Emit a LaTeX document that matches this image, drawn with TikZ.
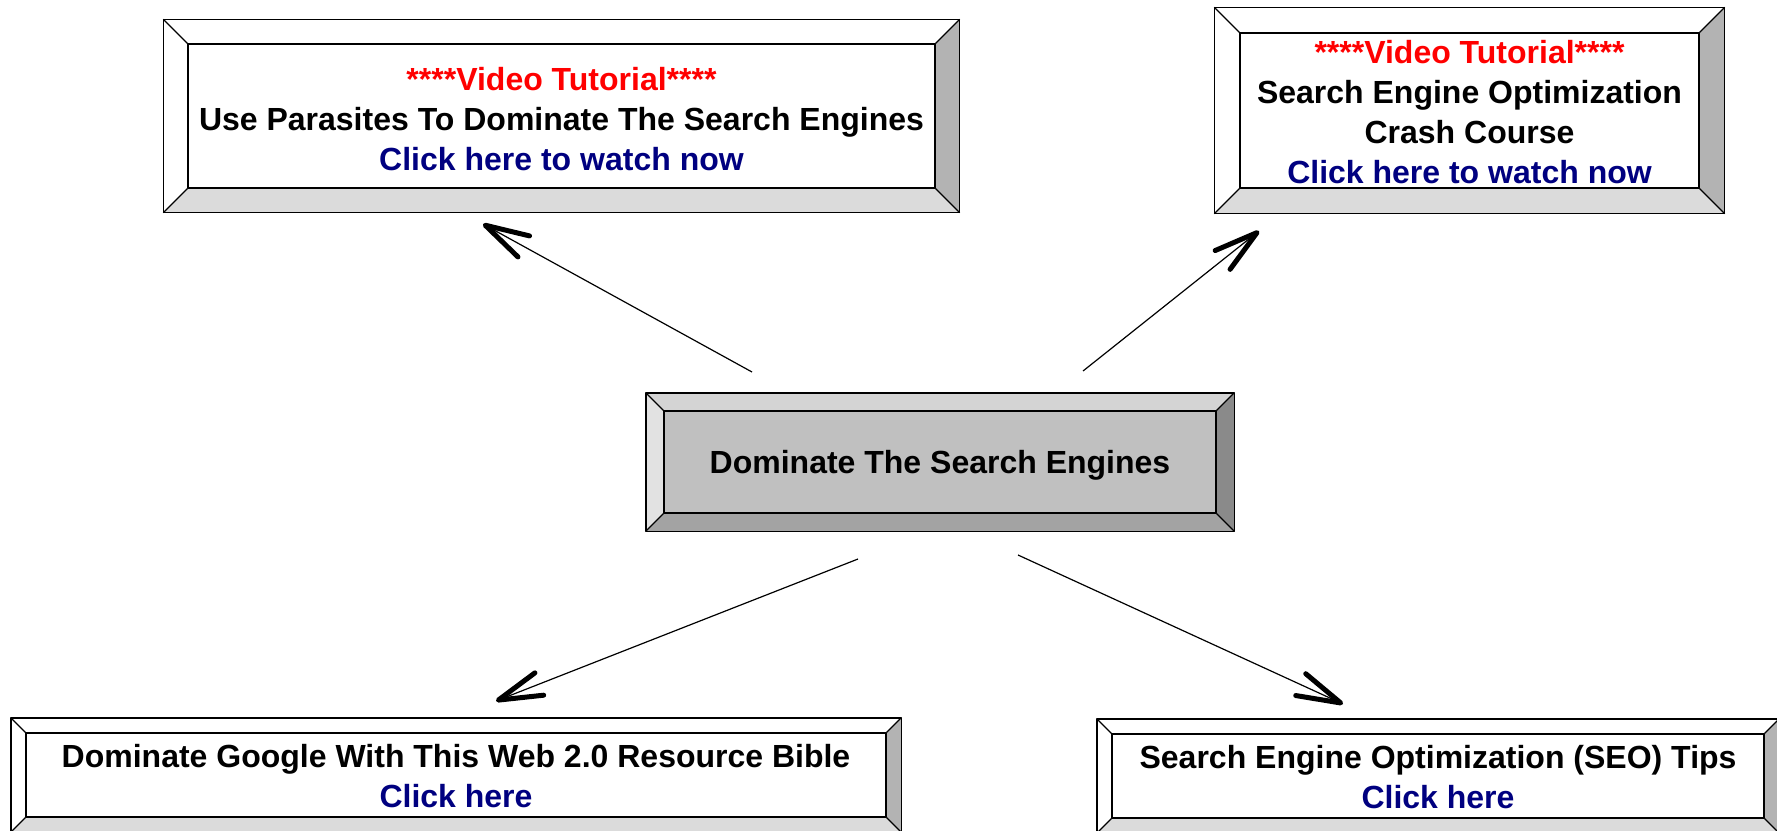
\documentclass[tikz,border=0pt]{standalone}
\usepackage{fontspec}
\setmainfont{Liberation Sans}
\usetikzlibrary{arrows.meta,calc}
\definecolor{navy}{HTML}{000080}
\definecolor{tred}{HTML}{FF0000}
\definecolor{bvright}{HTML}{B3B3B3}
\definecolor{bvbottom}{HTML}{DBDBDB}
\definecolor{cfill}{HTML}{C0C0C0}
\definecolor{ctop}{HTML}{D4D4D4}
\definecolor{cleft}{HTML}{E2E2E2}
\definecolor{cright}{HTML}{8A8A8A}
\definecolor{cbottom}{HTML}{A3A3A3}
\tikzset{
  edge/.style={draw=black, line width=1.3pt, line join=round},
  wbox/.style={rectangle, fill=white, edge, inner sep=0pt},
  gbox/.style={wbox, fill=cfill},
  txt/.style={inner sep=0pt, align=center,
    font=\fontsize{32}{40}\selectfont\bfseries},
  conn/.style={line width=1.2pt, draw=black,
    -{Straight Barb[length=44pt, width=24pt, line width=5pt, round]}},
}
% #1 node, #2 bevel, #3 top, #4 left, #5 right, #6 bottom
\newcommand\bevelframe[6]{%
  \coordinate (#1-inw) at (#1.north west);
  \coordinate (#1-ine) at (#1.north east);
  \coordinate (#1-ise) at (#1.south east);
  \coordinate (#1-isw) at (#1.south west);
  \coordinate (#1-onw) at ($(#1-inw)+(-#2,-#2)$);
  \coordinate (#1-one) at ($(#1-ine)+(#2,-#2)$);
  \coordinate (#1-ose) at ($(#1-ise)+(#2,#2)$);
  \coordinate (#1-osw) at ($(#1-isw)+(-#2,#2)$);
  \fill[#3] (#1-onw) -- (#1-one) -- (#1-ine) -- (#1-inw) -- cycle;
  \fill[#4] (#1-onw) -- (#1-inw) -- (#1-isw) -- (#1-osw) -- cycle;
  \fill[#5] (#1-one) -- (#1-ose) -- (#1-ise) -- (#1-ine) -- cycle;
  \fill[#6] (#1-osw) -- (#1-isw) -- (#1-ise) -- (#1-ose) -- cycle;
  \draw[edge] (#1-onw) rectangle (#1-ose);
  \draw[edge] (#1-inw) rectangle (#1-ise);
  \draw[edge] (#1-onw) -- (#1-inw) (#1-one) -- (#1-ine)
              (#1-ose) -- (#1-ise) (#1-osw) -- (#1-isw);
}
\begin{document}
\begin{tikzpicture}[x=1pt, y=-1pt]
  \useasboundingbox[fill=white] (0,0) rectangle (1777,830);

  % top-left box
  \node[wbox, minimum width=747pt, minimum height=144pt] (tl) at (561.5,116) {};
  \bevelframe{tl}{24}{white}{white}{bvright}{bvbottom}
  \node[txt] (tl-t) at ($(tl.center)+(0,3)$)
    {\textcolor{tred}{****Video Tutorial****}\\
     Use Parasites To Dominate The Search Engines\\
     \textcolor{navy}{Click here to watch now}};

  % top-right box
  \node[wbox, minimum width=459pt, minimum height=155pt] (tr) at (1469.5,110.5) {};
  \bevelframe{tr}{25}{white}{white}{bvright}{bvbottom}
  \node[txt] (tr-t) at ($(tr.center)+(0,2)$)
    {\textcolor{tred}{****Video Tutorial****}\\
     Search Engine Optimization\\
     Crash Course\\
     \textcolor{navy}{Click here to watch now}};

  % centre box
  \node[gbox, minimum width=552pt, minimum height=102pt] (ctr) at (940,462) {};
  \bevelframe{ctr}{17.5}{ctop}{cleft}{cright}{cbottom}
  \node[txt] (ctr-t) at ($(ctr.center)+(0,3.5)$) {Dominate The Search Engines};

  % bottom-left box
  \node[wbox, minimum width=860pt, minimum height=84pt] (bl) at (456,775) {};
  \bevelframe{bl}{14.5}{white}{white}{bvright}{bvbottom}
  \node[txt] (bl-t) at ($(bl.center)+(0,1.5)$)
    {Dominate Google With This Web 2.0 Resource Bible\\
     \textcolor{navy}{Click here}};

  % bottom-right box
  \node[wbox, minimum width=652pt, minimum height=84pt] (br) at (1438,776) {};
  \bevelframe{br}{14.5}{white}{white}{bvright}{bvbottom}
  \node[txt] (br-t) at ($(br.center)+(0,1.5)$)
    {Search Engine Optimization (SEO) Tips\\
     \textcolor{navy}{Click here}};

  % connectors
  \coordinate (a1s) at (752,372);  \coordinate (a1t) at (483,224);
  \coordinate (a2s) at (1083,371); \coordinate (a2t) at (1259,231);
  \coordinate (a3s) at (858,559);  \coordinate (a3t) at (496,701);
  \coordinate (a4s) at (1018,555); \coordinate (a4t) at (1343,704);
  \draw[conn] (a1s) -- (a1t);
  \draw[conn] (a2s) -- (a2t);
  \draw[conn] (a3s) -- (a3t);
  \draw[conn] (a4s) -- (a4t);
\end{tikzpicture}
\end{document}
